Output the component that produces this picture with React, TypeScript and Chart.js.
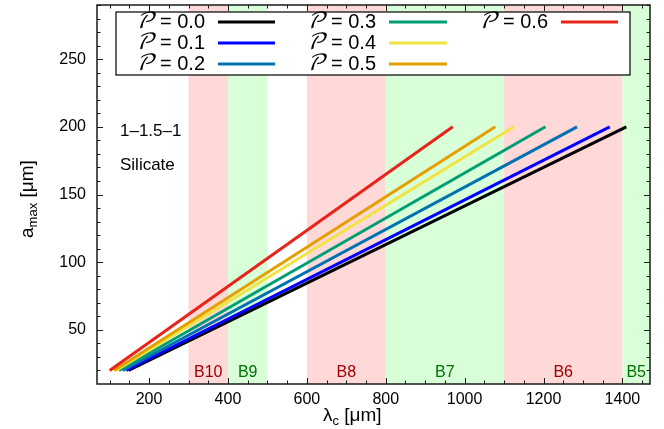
import React, { useEffect, useRef } from "react";
import { Chart, registerables } from "chart.js";
Chart.register(...registerables);

const porosityLabels = ["0.0", "0.1", "0.2", "0.3", "0.4", "0.5", "0.6"];
const seriesColors = ["#000000", "#0000FF", "#0072B2", "#009E73", "#F0E442", "#E69F00", "#E8241A"];
const lambdaStart = [148, 142, 133, 124, 116, 111, 100];
const lambdaEnd = [1410, 1368, 1285, 1205, 1125, 1078, 970];
const amaxValues = [20, 200];
const bandNames = ["B10", "B9", "B8", "B7", "B6", "B5"];
const bandFrom = [300, 400, 600, 800, 1100, 1400];
const bandTo = [400, 500, 800, 1100, 1400, 1470];
const xTicks = [200, 400, 600, 800, 1000, 1200, 1400];
const yTicks = [50, 100, 150, 200, 250];
const xRange = [68, 1470];
const yRange = [10, 290];
const annotationTexts = ["1\u20131.5\u20131", "Silicate"];

const FONT = "'Liberation Sans', Arial, Helvetica, sans-serif";

const customPlugin = {
  id: "custom",
  beforeDatasetsDraw(chart: any) {
    const { ctx, chartArea: a, scales } = chart;
    const x = scales.x;
    ctx.save();
    ctx.beginPath();
    ctx.rect(a.left, a.top, a.right - a.left, a.bottom - a.top);
    ctx.clip();
    for (let i = 0; i < bandNames.length; i++) {
      const x0 = x.getPixelForValue(bandFrom[i]);
      const x1 = x.getPixelForValue(bandTo[i]);
      ctx.fillStyle = i % 2 === 0 ? "#FFD8D8" : "#D8FFD8";
      ctx.fillRect(x0, a.top, x1 - x0, a.bottom - a.top);
    }
    ctx.font = `16px ${FONT}`;
    ctx.textAlign = "center";
    ctx.textBaseline = "middle";
    for (let i = 0; i < bandNames.length; i++) {
      const x0 = x.getPixelForValue(bandFrom[i]);
      const x1 = x.getPixelForValue(Math.min(bandTo[i], xRange[1]));
      ctx.fillStyle = i % 2 === 0 ? "#A00000" : "#007000";
      ctx.fillText(bandNames[i], (x0 + x1) / 2, a.bottom - 11);
    }
    ctx.restore();
  },
  afterDraw(chart: any) {
    const { ctx, chartArea: a, scales } = chart;
    const x = scales.x;
    const y = scales.y;
    ctx.save();
    // frame
    ctx.strokeStyle = "#1a1a1a";
    ctx.lineWidth = 1.5;
    ctx.strokeRect(a.left, a.top, a.right - a.left, a.bottom - a.top);
    // ticks
    ctx.lineWidth = 1;
    ctx.beginPath();
    for (let v = 100; v <= xRange[1]; v += 50) {
      const px = Math.round(x.getPixelForValue(v)) + 0.5;
      const len = v % 200 === 0 ? 6 : 3.5;
      ctx.moveTo(px, a.bottom);
      ctx.lineTo(px, a.bottom - len);
      ctx.moveTo(px, a.top);
      ctx.lineTo(px, a.top + len);
    }
    for (let v = 20; v <= yRange[1]; v += 10) {
      const py = Math.round(y.getPixelForValue(v)) + 0.5;
      const len = v % 50 === 0 ? 6 : 3.5;
      ctx.moveTo(a.left, py);
      ctx.lineTo(a.left + len, py);
      ctx.moveTo(a.right, py);
      ctx.lineTo(a.right - len, py);
    }
    ctx.stroke();

    // annotations
    ctx.fillStyle = "#000";
    ctx.font = `17px ${FONT}`;
    ctx.textAlign = "left";
    ctx.textBaseline = "middle";
    ctx.fillText(annotationTexts[0], 120, 131);
    ctx.fillText(annotationTexts[1], 120, 165);

    // legend
    const lx0 = 116, ly0 = 12, lx1 = 630, ly1 = 75;
    ctx.fillStyle = "#fff";
    ctx.fillRect(lx0, ly0, lx1 - lx0, ly1 - ly0);
    ctx.strokeStyle = "#000";
    ctx.lineWidth = 1.2;
    ctx.strokeRect(lx0, ly0, lx1 - lx0, ly1 - ly0);
    const colTextRight = [205, 376, 548];
    const colLine = [[218, 275], [389, 447], [561, 618]];
    const rowY = [22, 43, 64];
    ctx.textBaseline = "middle";
    for (let i = 0; i < porosityLabels.length; i++) {
      const col = Math.floor(i / 3);
      const row = i % 3;
      const ty = rowY[row];
      const valText = " = " + porosityLabels[i];
      ctx.font = `20px ${FONT}`;
      const w2 = ctx.measureText(valText).width;
      ctx.fillStyle = "#000";
      ctx.textAlign = "right";
      ctx.fillText(valText, colTextRight[col], ty);
      ctx.font = `italic 22px 'DejaVu Math TeX Gyre', 'DejaVu Serif', serif`;
      ctx.fillText("\u{1D4AB}", colTextRight[col] - w2, ty);
      ctx.strokeStyle = seriesColors[i];
      ctx.lineWidth = 3;
      ctx.beginPath();
      ctx.moveTo(colLine[col][0], ty);
      ctx.lineTo(colLine[col][1], ty);
      ctx.stroke();
    }

    // axis titles
    ctx.fillStyle = "#000";
    ctx.textAlign = "left";
    ctx.textBaseline = "alphabetic";
    let cx = 323;
    const by = 421;
    ctx.font = `19px ${FONT}`;
    ctx.fillText("\u03BB", cx, by);
    cx += ctx.measureText("\u03BB").width;
    ctx.font = `13px ${FONT}`;
    ctx.fillText("c", cx, by + 4);
    cx += ctx.measureText("c").width;
    ctx.font = `19px ${FONT}`;
    ctx.fillText(" [\u03BCm]", cx, by);

    ctx.translate(33, 238);
    ctx.rotate(-Math.PI / 2);
    let tx = 0;
    ctx.font = `19px ${FONT}`;
    ctx.fillText("a", tx, 0);
    tx += ctx.measureText("a").width;
    ctx.font = `13px ${FONT}`;
    ctx.fillText("max", tx, 4);
    tx += ctx.measureText("max").width;
    ctx.font = `19px ${FONT}`;
    ctx.fillText(" [\u03BCm]", tx, 0);
    ctx.restore();
  },
};

export default function App() {
  const ref = useRef<HTMLCanvasElement | null>(null);
  useEffect(() => {
    document.body.style.margin = "0";
    const canvas = ref.current;
    if (!canvas) return;
    const datasets = porosityLabels.map((p, i) => ({
      label: "P = " + p,
      data: [
        { x: lambdaStart[i], y: amaxValues[0] },
        { x: lambdaEnd[i], y: amaxValues[1] },
      ],
      borderColor: seriesColors[i],
      backgroundColor: seriesColors[i],
      borderWidth: 3,
      borderCapStyle: "butt" as const,
      pointRadius: 0,
      fill: false,
      tension: 0,
      order: porosityLabels.length - 1 - i,
    }));
    const chart = new Chart(canvas, {
      type: "line",
      data: { datasets },
      options: {
        responsive: false,
        animation: false,
        layout: { padding: { top: 5, right: 14, left: 0, bottom: 0 } },
        plugins: { legend: { display: false }, tooltip: { enabled: false } },
        scales: {
          x: {
            type: "linear",
            min: xRange[0],
            max: xRange[1],
            grid: { display: false, drawTicks: false },
            border: { display: false },
            afterBuildTicks: (s: any) => {
              s.ticks = xTicks.map((v) => ({ value: v }));
            },
            afterFit: (s: any) => {
              s.height = 45;
              s.paddingLeft = 0;
              s.paddingRight = 0;
            },
            ticks: {
              padding: 6,
              maxRotation: 0,
              autoSkip: false,
              color: "#000",
              font: { family: FONT, size: 16 },
              callback: (v: any) => String(v),
            },
          },
          y: {
            type: "linear",
            min: yRange[0],
            max: yRange[1],
            grid: { display: false, drawTicks: false },
            border: { display: false },
            afterBuildTicks: (s: any) => {
              s.ticks = yTicks.map((v) => ({ value: v }));
            },
            afterFit: (s: any) => {
              s.width = 97;
              s.paddingTop = 0;
              s.paddingBottom = 0;
            },
            ticks: {
              padding: 11,
              autoSkip: false,
              color: "#000",
              font: { family: FONT, size: 16 },
              callback: (v: any) => String(v),
            },
          },
        },
      },
      plugins: [customPlugin],
    });
    return () => chart.destroy();
  }, []);
  return (
    <div style={{ width: 664, height: 429 }}>
      <canvas ref={ref} width={664} height={429} style={{ display: "block" }} />
    </div>
  );
}
